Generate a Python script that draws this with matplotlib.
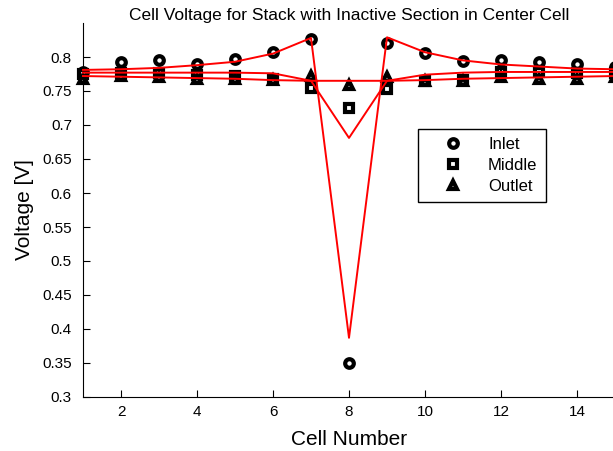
import numpy as np
import matplotlib
matplotlib.use('Agg')
import matplotlib.pyplot as plt
from matplotlib.ticker import FormatStrFormatter

plt.rcParams['font.family'] = ['Liberation Sans', 'DejaVu Sans']

# measured cell voltages
cells = np.arange(1, 16)
inlet = [0.778, 0.793, 0.796, 0.790, 0.797, 0.807, 0.826, 0.350,
         0.821, 0.806, 0.794, 0.796, 0.793, 0.790, 0.786]
middle = [0.775, 0.777, 0.776, 0.774, 0.772, 0.767, 0.754, 0.725,
          0.753, 0.765, 0.766, 0.778, 0.778, 0.777, 0.777]
outlet = [0.768, 0.772, 0.770, 0.768, 0.768, 0.766, 0.772, 0.759,
          0.771, 0.764, 0.764, 0.770, 0.768, 0.768, 0.770]

# model curves
inlet_model = [0.781, 0.782, 0.784, 0.788, 0.793, 0.805, 0.828, 0.387,
               0.829, 0.807, 0.795, 0.789, 0.786, 0.783, 0.782]
middle_model = [0.777, 0.777, 0.777, 0.777, 0.777, 0.776, 0.765, 0.681,
                0.765, 0.774, 0.777, 0.778, 0.778, 0.778, 0.778]
outlet_model = [0.772, 0.771, 0.770, 0.769, 0.768, 0.766, 0.765, 0.765,
                0.765, 0.766, 0.768, 0.769, 0.770, 0.771, 0.772]

fig = plt.figure(figsize=(6.13, 4.51), dpi=100)
ax = fig.add_axes([83/613, 54/451, 532/613, 374/451])

mk = dict(color='k', linestyle='none', markersize=6.2, markeredgewidth=3.0,
          markerfacecolor='white', clip_on=False)
ax.plot(cells, inlet, marker='o', label='Inlet', **mk)
ax.plot(cells, middle, marker='s', label='Middle', **mk)
ax.plot(cells, outlet, marker='^', label='Outlet', **mk)

for m in (inlet_model, middle_model, outlet_model):
    ax.plot(cells, m, color='red', linewidth=1.4, zorder=3, clip_on=False)

ax.set_xlim(1, 15)
ax.set_ylim(0.3, 0.85)
ax.set_xticks(np.arange(2, 15, 2))
ax.set_yticks(np.arange(0.3, 0.801, 0.05))
ax.yaxis.set_major_formatter(FormatStrFormatter('%g'))
ax.tick_params(direction='in', length=5, labelsize=11, width=0.8)
ax.tick_params(axis='x', pad=6)
ax.tick_params(axis='y', pad=8)
ax.spines['top'].set_visible(False)
ax.spines['right'].set_visible(False)

ax.set_xlabel('Cell Number', fontsize=15, labelpad=8)
ax.set_ylabel('Voltage [V]', fontsize=15, labelpad=6)
ax.set_title('Cell Voltage for Stack with Inactive Section in Center Cell',
             fontsize=12.5, pad=2)

leg = ax.legend(loc='upper left', bbox_to_anchor=(418/613, 1 - 129/451),
                bbox_transform=fig.transFigure, fontsize=12, fancybox=False,
                edgecolor='k', framealpha=1, borderaxespad=0,
                handlelength=3.2, handletextpad=0.5,
                borderpad=0.5, labelspacing=0.35)
leg.get_frame().set_linewidth(1.0)

fig.savefig('out.png', dpi=100)
